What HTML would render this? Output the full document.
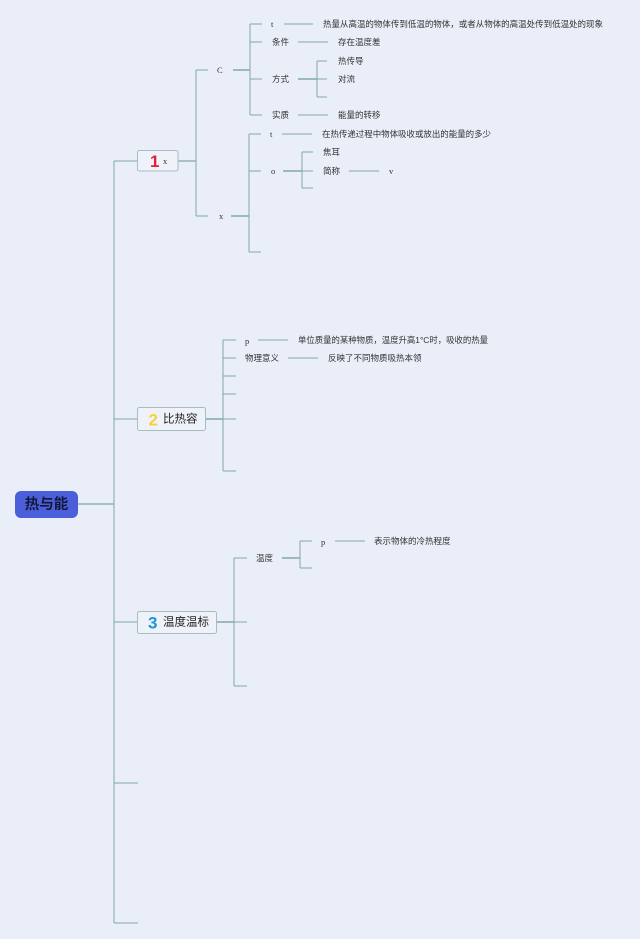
<!DOCTYPE html>
<html><head><meta charset="utf-8"><style>
html,body{margin:0;padding:0;background:#EAEEF9;}
svg{display:block;}
.s{font-family:"Liberation Sans","Noto Sans CJK SC",sans-serif;font-size:8.5px;fill:#333;}
.r{font-family:"Liberation Serif","Noto Serif CJK SC",serif;font-size:8.5px;fill:#333;}
.n{font-family:"Liberation Sans","Noto Sans CJK SC",sans-serif;font-size:11.5px;fill:#222;}
</style></head><body>
<svg width="640" height="939" viewBox="0 0 640 939" xmlns="http://www.w3.org/2000/svg">
<rect width="640" height="939" fill="#EAEEF9"/>
<g stroke="#7FA9A9" stroke-width="1" fill="none">
<!-- root -->
<line x1="78" y1="504" x2="114" y2="504" stroke-width="1.3"/>
<line x1="114" y1="161" x2="114" y2="923"/>
<line x1="114" y1="161" x2="137" y2="161"/>
<line x1="114" y1="419" x2="137" y2="419"/>
<line x1="114" y1="622" x2="138" y2="622"/>
<line x1="114" y1="783" x2="138" y2="783"/>
<line x1="114" y1="923" x2="138" y2="923"/>
<!-- node1 -->
<line x1="178" y1="161" x2="196" y2="161" stroke-width="1.3"/>
<line x1="196" y1="70" x2="196" y2="216"/>
<line x1="196" y1="70" x2="208" y2="70"/>
<line x1="196" y1="216" x2="208" y2="216"/>
<line x1="233" y1="70" x2="250" y2="70" stroke-width="1.5"/>
<line x1="250" y1="24" x2="250" y2="115"/>
<line x1="250" y1="24" x2="262" y2="24"/>
<line x1="250" y1="42" x2="262" y2="42"/>
<line x1="250" y1="79" x2="262" y2="79"/>
<line x1="250" y1="115" x2="262" y2="115"/>
<line x1="284" y1="24" x2="313" y2="24"/>
<line x1="298" y1="42" x2="328" y2="42"/>
<line x1="298" y1="79" x2="317" y2="79" stroke-width="1.5"/>
<line x1="317" y1="61" x2="317" y2="97"/>
<line x1="317" y1="61" x2="327" y2="61"/>
<line x1="317" y1="79" x2="327" y2="79"/>
<line x1="317" y1="97" x2="327" y2="97"/>
<line x1="298" y1="115" x2="328" y2="115"/>
<line x1="231" y1="216" x2="249" y2="216" stroke-width="1.5"/>
<line x1="249" y1="134" x2="249" y2="252"/>
<line x1="249" y1="134" x2="261" y2="134"/>
<line x1="249" y1="171" x2="261" y2="171"/>
<line x1="249" y1="252" x2="261" y2="252"/>
<line x1="282" y1="134" x2="312" y2="134"/>
<line x1="283" y1="171" x2="302" y2="171" stroke-width="1.5"/>
<line x1="302" y1="152" x2="302" y2="188"/>
<line x1="302" y1="152" x2="313" y2="152"/>
<line x1="302" y1="171" x2="313" y2="171"/>
<line x1="302" y1="188" x2="313" y2="188"/>
<line x1="349" y1="171" x2="379" y2="171"/>
<!-- node2 -->
<line x1="206" y1="419" x2="223" y2="419" stroke-width="1.5"/>
<line x1="223" y1="340" x2="223" y2="471"/>
<line x1="223" y1="340" x2="236" y2="340"/>
<line x1="223" y1="358" x2="236" y2="358"/>
<line x1="223" y1="376" x2="236" y2="376"/>
<line x1="223" y1="394" x2="236" y2="394"/>
<line x1="223" y1="419" x2="236" y2="419"/>
<line x1="223" y1="471" x2="236" y2="471"/>
<line x1="258" y1="340" x2="288" y2="340"/>
<line x1="288" y1="358" x2="318" y2="358"/>
<!-- node3 -->
<line x1="217" y1="622" x2="234" y2="622" stroke-width="1.5"/>
<line x1="234" y1="558" x2="234" y2="686"/>
<line x1="234" y1="558" x2="247" y2="558"/>
<line x1="234" y1="622" x2="247" y2="622"/>
<line x1="234" y1="686" x2="247" y2="686"/>
<line x1="282" y1="558" x2="300" y2="558" stroke-width="1.5"/>
<line x1="300" y1="541" x2="300" y2="568"/>
<line x1="300" y1="541" x2="312" y2="541"/>
<line x1="300" y1="568" x2="312" y2="568"/>
<line x1="335" y1="541" x2="365" y2="541"/>
</g>
<!-- root node -->
<rect x="15" y="491" width="63" height="27" rx="6" fill="#4A5FD9"/>
<text x="46.5" y="505" text-anchor="middle" dominant-baseline="central" font-family="Liberation Sans,Noto Sans CJK SC,sans-serif" font-size="14.5" font-weight="bold" fill="#14163A">热与能</text>
<!-- node boxes -->
<rect x="137.5" y="150.5" width="40.5" height="20.5" rx="2" fill="#EFF3F9" stroke="#A8BCC4" stroke-width="1"/>
<text x="150" y="161.5" dominant-baseline="central" font-family="Liberation Sans,sans-serif" font-size="17" font-weight="bold" fill="#E0213A">1</text>
<text x="163" y="161" dominant-baseline="central" class="r" font-size="9">x</text>
<rect x="137.5" y="407.5" width="68" height="23" rx="2" fill="#EFF3F9" stroke="#A8BCC4" stroke-width="1"/>
<text x="148.5" y="420" dominant-baseline="central" font-family="Liberation Sans,sans-serif" font-size="17" font-weight="bold" fill="#F4D43A">2</text>
<text x="163" y="419.5" dominant-baseline="central" class="n">比热容</text>
<rect x="137.5" y="611.5" width="79" height="22" rx="2" fill="#EFF3F9" stroke="#A8BCC4" stroke-width="1"/>
<text x="148" y="623" dominant-baseline="central" font-family="Liberation Sans,sans-serif" font-size="17" font-weight="bold" fill="#1E96D6">3</text>
<text x="163" y="622.5" dominant-baseline="central" class="n">温度温标</text>
<!-- labels group 1 -->
<g dominant-baseline="central">
<text x="217" y="70" class="r" font-size="9.5">C</text>
<text x="219" y="216" class="r">x</text>
<text x="271" y="24" class="r">t</text>
<text x="323" y="24" class="s" textLength="280" lengthAdjust="spacingAndGlyphs">热量从高温的物体传到低温的物体，或者从物体的高温处传到低温处的现象</text>
<text x="272" y="42" class="s">条件</text>
<text x="338" y="42" class="s">存在温度差</text>
<text x="272" y="79" class="s">方式</text>
<text x="338" y="61" class="s">热传导</text>
<text x="338" y="79" class="s">对流</text>
<text x="272" y="115" class="s">实质</text>
<text x="338" y="115" class="s">能量的转移</text>
<text x="270" y="134" class="r">t</text>
<text x="322" y="134" class="s" textLength="169" lengthAdjust="spacingAndGlyphs">在热传递过程中物体吸收或放出的能量的多少</text>
<text x="271" y="171" class="r">o</text>
<text x="323" y="152" class="s">焦耳</text>
<text x="323" y="171" class="s">简称</text>
<text x="389" y="171" class="r">v</text>
<!-- group 2 -->
<text x="245" y="341" class="r">p</text>
<text x="298" y="340" class="s" textLength="190" lengthAdjust="spacingAndGlyphs">单位质量的某种物质，温度升高1°C时，吸收的热量</text>
<text x="245" y="358" class="s">物理意义</text>
<text x="328" y="358" class="s">反映了不同物质吸热本领</text>
<!-- group 3 -->
<text x="256" y="558" class="s">温度</text>
<text x="321" y="542" class="r">p</text>
<text x="374" y="541" class="s">表示物体的冷热程度</text>
</g>
</svg>
</body></html>
